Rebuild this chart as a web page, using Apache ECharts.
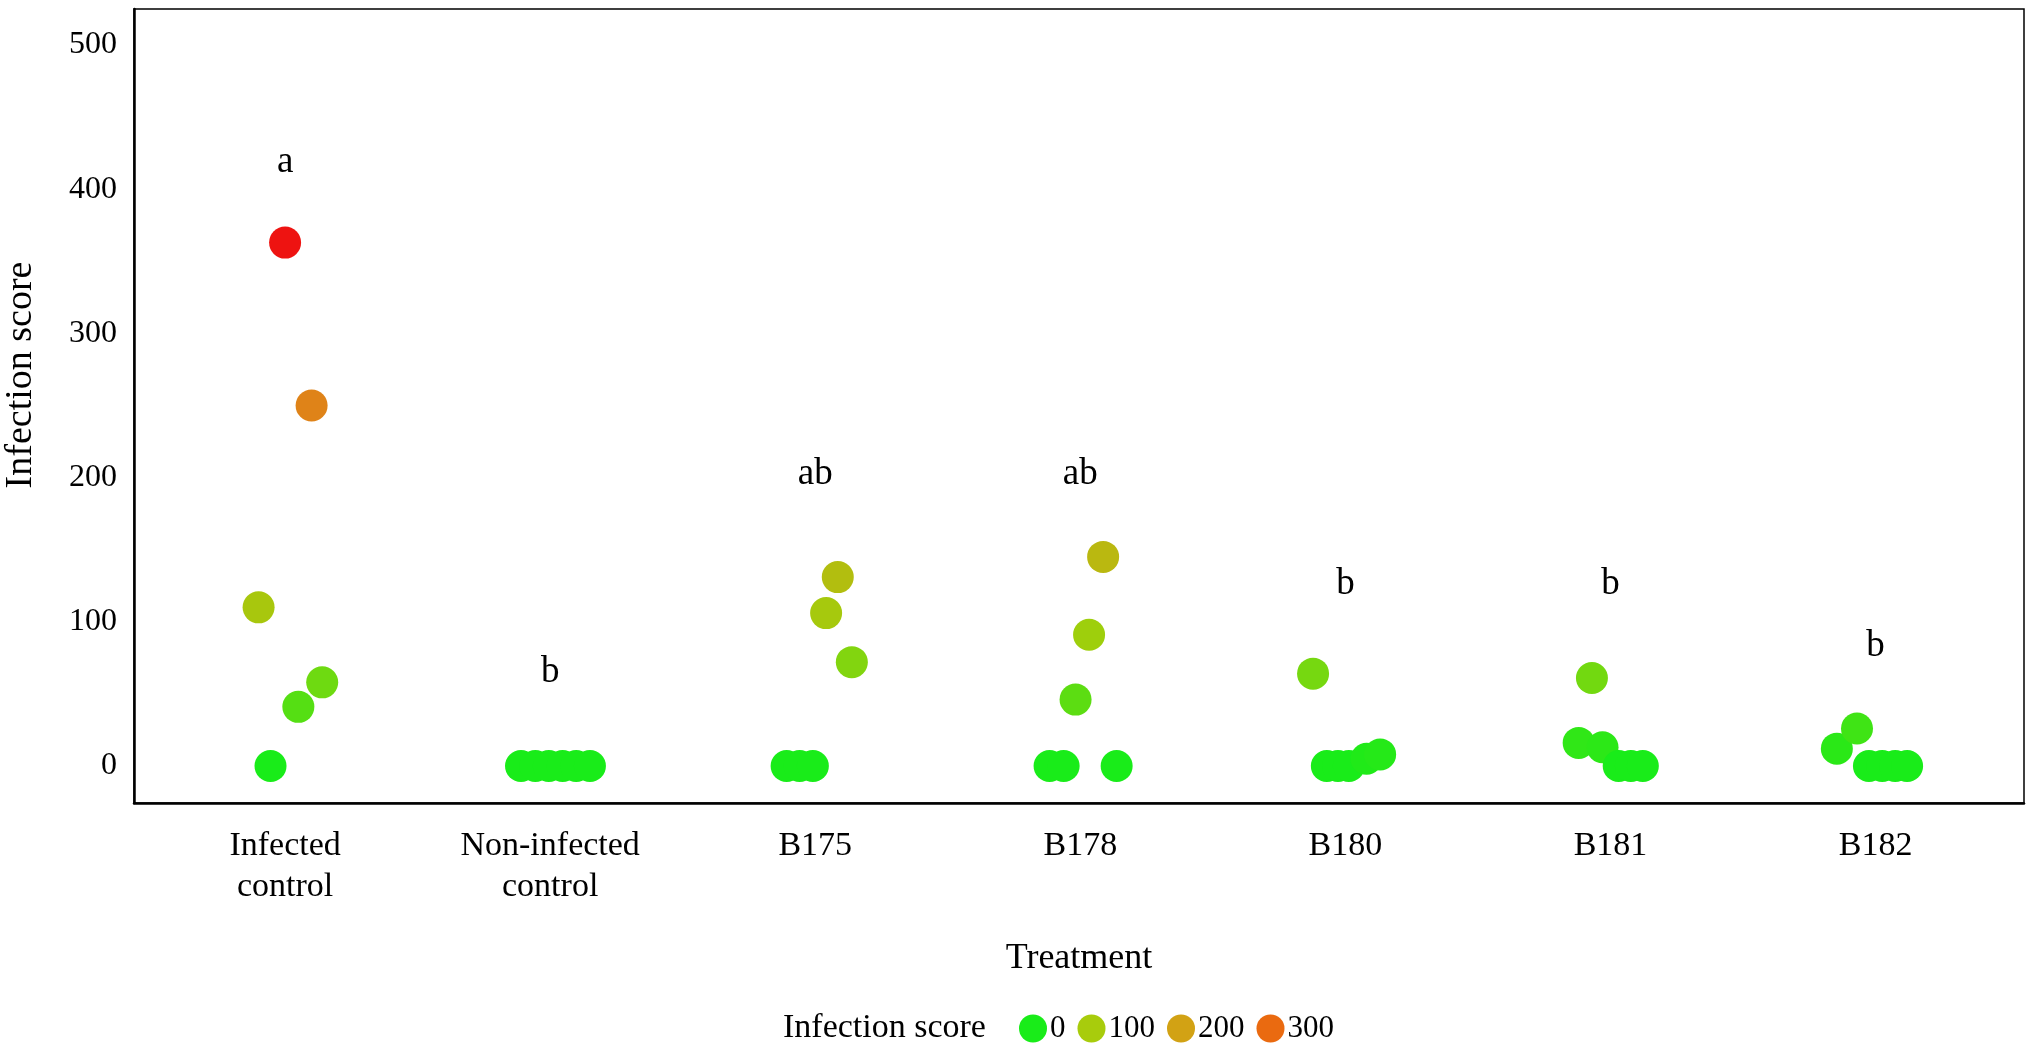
<!DOCTYPE html>
<html>
<head>
<meta charset="utf-8">
<title>Infection score by treatment</title>
<script src="https://cdn.jsdelivr.net/npm/echarts@6/dist/echarts.min.js"></script>
<style>
  html, body { margin: 0; padding: 0; background: #fff; }
  #chart { width: 2032px; height: 1050px; }
</style>
</head>
<body>
<div id="chart"></div>
<script>
// treatments on the x axis
var categories = ['Infected\ncontrol', 'Non-infected\ncontrol', 'B175', 'B178', 'B180', 'B181', 'B182'];

// infection score of each plant, one list per treatment
var scores = [
  [363, 250, 110, 58, 41, 0],
  [0, 0, 0, 0, 0, 0],
  [131, 106, 72, 0, 0, 0],
  [145, 91, 46, 0, 0, 0],
  [64, 0, 0, 0, 5, 8],
  [61, 16, 13, 0, 0, 0],
  [12, 26, 0, 0, 0, 0]
];

// horizontal jitter of each plant (in category units)
var jitter = [
  [0.00, 0.10, -0.10, 0.14, 0.05, -0.055],
  [-0.11, -0.056, -0.005, 0.047, 0.098, 0.15],
  [0.085, 0.041, 0.138, -0.108, -0.059, -0.009],
  [0.086, 0.033, -0.018, -0.116, -0.063, 0.137],
  [-0.122, -0.07, -0.028, 0.013, 0.08, 0.131],
  [-0.07, -0.12, -0.03, 0.031, 0.077, 0.122],
  [-0.146, -0.07, -0.025, 0.025, 0.074, 0.119]
];

// significance letters and the height they sit at
var letters = ['a', 'b', 'ab', 'ab', 'b', 'b', 'b'];
var letterY = [419, 65, 202, 202, 126, 126, 83];

// legend steps of the colour scale
var legendSteps = ['0', '100', '200', '300'];
var legendColors = ['#19ec19', '#a8cc0c', '#d2a214', '#ea6a10'];

var yTicks = [0, 100, 200, 300, 400, 500];
var serif = '"Liberation Serif", "Times New Roman", serif';

var chart = echarts.init(document.getElementById('chart'));

var points = [];
scores.forEach(function (list, i) {
  list.forEach(function (v, j) {
    points.push([i + 1 + jitter[i][j], v]);
  });
});

var letterData = letters.map(function (t, i) {
  return { name: t, value: [i + 1, letterY[i]] };
});

var series = [
  {
    name: 'Infection score',
    type: 'scatter',
    symbol: 'circle',
    symbolSize: 32,
    data: points,
    itemStyle: { opacity: 1 },
    emphasis: { disabled: true }
  },
  {
    name: 'letters',
    type: 'scatter',
    symbolSize: 1,
    silent: true,
    data: letterData,
    itemStyle: { opacity: 0 },
    label: {
      show: true,
      position: 'inside',
      formatter: '{b}',
      color: '#000',
      opacity: 1,
      fontFamily: serif,
      fontSize: 37
    }
  }
];

// empty series only for the legend dots
legendSteps.forEach(function (s, i) {
  series.push({
    name: s,
    type: 'scatter',
    data: [],
    itemStyle: { color: legendColors[i], opacity: 1 }
  });
});

var option = {
  backgroundColor: '#fff',
  animation: false,
  grid: {
    left: 134, right: 8, top: 9, bottom: 247,
    show: true,
    borderColor: '#000',
    borderWidth: 1.5
  },
  xAxis: {
    type: 'value',
    min: 0.43,
    max: 7.56,
    name: 'Treatment',
    nameLocation: 'middle',
    nameGap: 138,
    nameTextStyle: { fontFamily: serif, fontSize: 36, color: '#000' },
    splitLine: { show: false },
    axisTick: { show: false },
    axisLine: { show: true, onZero: false, lineStyle: { color: '#000', width: 2.5 } },
    axisLabel: {
      customValues: [1, 2, 3, 4, 5, 6, 7],
      formatter: function (v) { return categories[Math.round(v) - 1] || ''; },
      fontFamily: serif,
      fontSize: 34,
      lineHeight: 41,
      color: '#000',
      margin: 23
    }
  },
  yAxis: {
    type: 'value',
    min: -25.7,
    max: 525,
    splitLine: { show: false },
    axisTick: { show: false },
    axisLine: { show: true, onZero: false, lineStyle: { color: '#000', width: 2.5 } },
    axisLabel: {
      customValues: yTicks,
      fontFamily: serif,
      fontSize: 32,
      color: '#000',
      margin: 17
    }
  },
  visualMap: {
    show: false,
    type: 'continuous',
    seriesIndex: 0,
    dimension: 1,
    min: 0,
    max: 365,
    inRange: { color: ['#19ec19', '#9ecf0c', '#cda813', '#e6761a', '#ee1111'] }
  },
  legend: {
    data: legendSteps,
    left: 1019,
    top: 1013,
    icon: 'circle',
    itemWidth: 28,
    itemHeight: 28,
    itemGap: 12,
    padding: 0,
    selectedMode: false,
    itemStyle: { opacity: 1 },
    textStyle: { fontFamily: serif, fontSize: 31, color: '#000', padding: [0, 0, 0, -2] }
  },
  graphic: [
    {
      type: 'text',
      x: 21,
      y: 375,
      rotation: Math.PI / 2,
      style: {
        text: 'Infection score',
        fontFamily: serif,
        fontSize: 38,
        fill: '#000',
        align: 'center',
        verticalAlign: 'middle'
      }
    },
    {
      type: 'text',
      x: 783,
      y: 1028,
      style: {
        text: 'Infection score',
        fontFamily: serif,
        fontSize: 34,
        fill: '#000',
        align: 'left',
        verticalAlign: 'middle'
      }
    }
  ],
  series: series
};

chart.setOption(option);
</script>
</body>
</html>
